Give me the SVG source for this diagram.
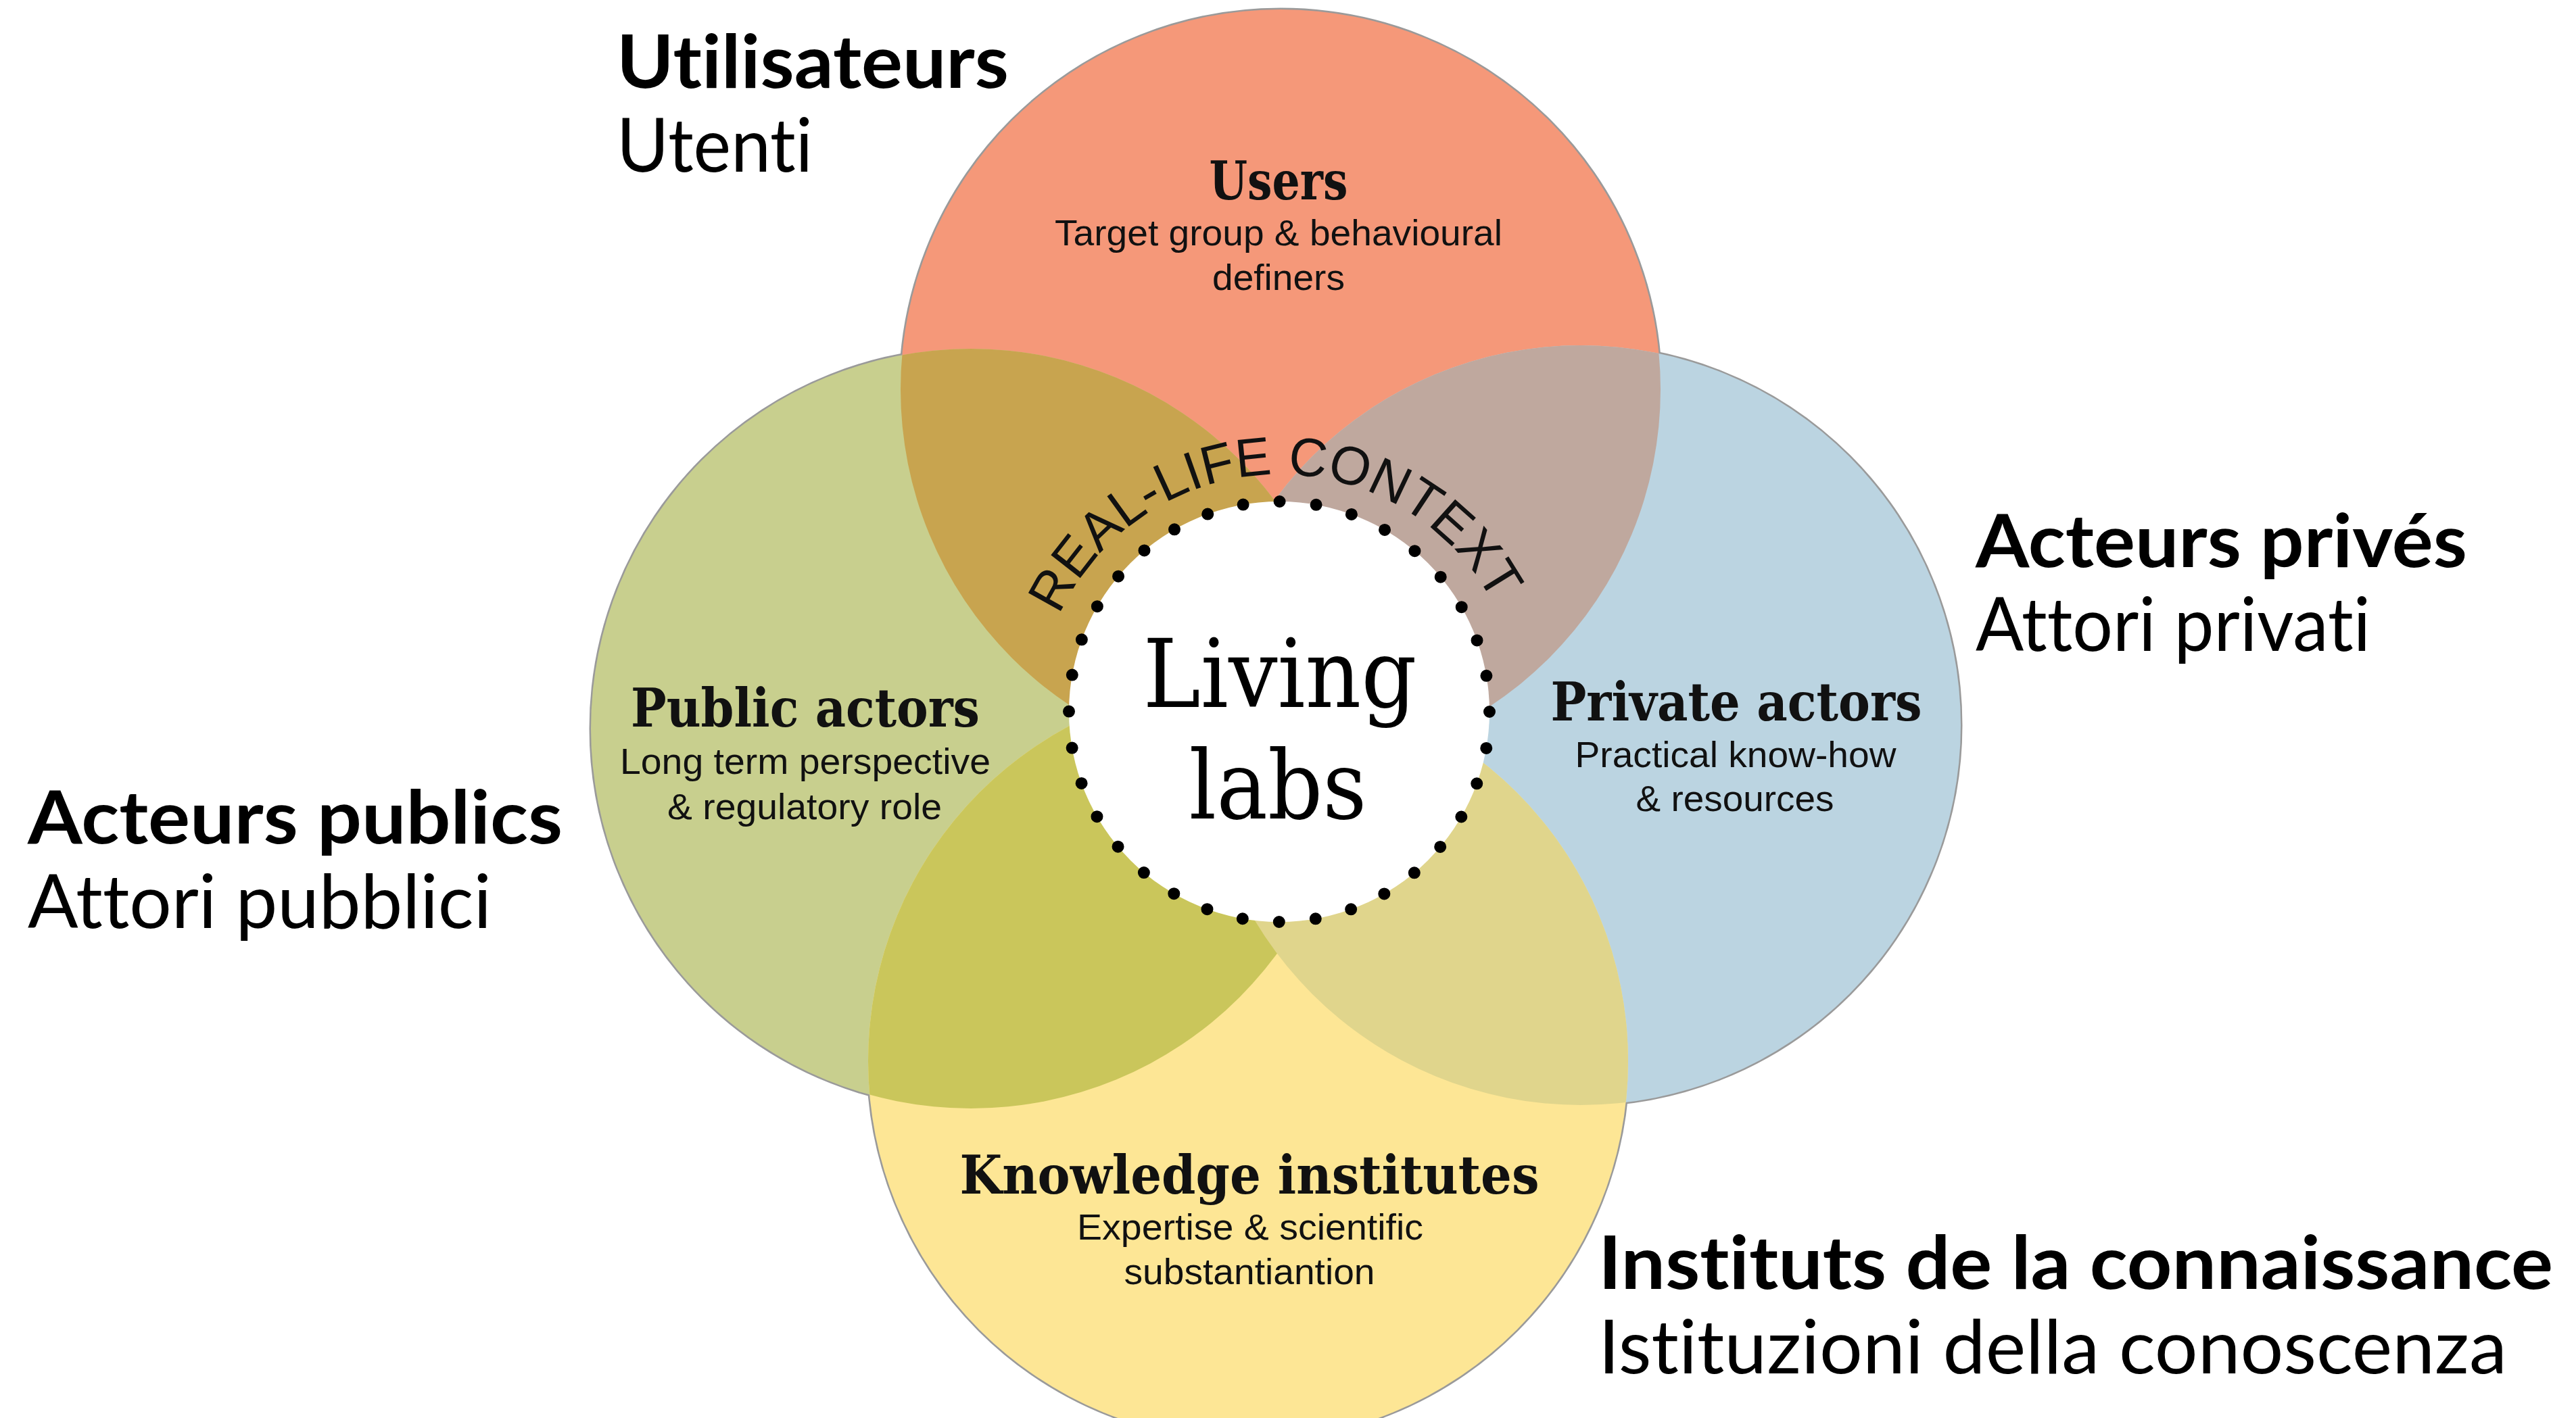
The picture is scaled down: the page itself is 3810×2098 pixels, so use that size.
<svg xmlns="http://www.w3.org/2000/svg" width="3810" height="2098" viewBox="0 0 3810 2098">
<style>
text{font-variant-ligatures:none}
.outline{fill:none;stroke:#9a9a9a;stroke-width:5}
.slab{font-family:"DejaVu Serif","Liberation Serif",serif;font-weight:bold;font-size:78px;fill:#111;text-anchor:middle}
.sub{font-family:"Liberation Sans",Arial,sans-serif;font-size:53px;fill:#111;text-anchor:middle}
.lbl{font-family:Lato,"Open Sans","Liberation Sans",sans-serif;font-size:110px;fill:#000}
.lblb{font-weight:bold}
.ctx{font-family:"Liberation Sans",Arial,sans-serif;font-size:80px;fill:#111}
.ll{font-family:"DejaVu Serif","Liberation Serif",serif;font-size:140px;fill:#000;text-anchor:middle}
</style>
<defs>
<clipPath id="cU"><circle cx="1894" cy="576" r="562"/></clipPath>
<clipPath id="cG"><circle cx="1436" cy="1078" r="562"/></clipPath>
<clipPath id="cB"><circle cx="2338" cy="1073" r="562"/></clipPath>
<clipPath id="cY"><circle cx="1846" cy="1570" r="562"/></clipPath>
<path id="arc" d="M 1534 1060 A 358 358 0 0 1 2250 1060"/>
</defs>
<rect width="3810" height="2098" fill="#ffffff"/>
<g id="venn">
<circle class="outline" cx="1894" cy="576" r="562"/>
<circle class="outline" cx="1436" cy="1078" r="562"/>
<circle class="outline" cx="2338" cy="1073" r="562"/>
<circle class="outline" cx="1846" cy="1570" r="562"/>
<circle cx="1894" cy="576" r="562" fill="#F59879"/>
<circle cx="1436" cy="1078" r="562" fill="#C8CF8E"/>
<circle cx="2338" cy="1073" r="562" fill="#BBD4E1"/>
<circle cx="1846" cy="1570" r="562" fill="#FDE695"/>
<g clip-path="url(#cU)"><circle cx="1436" cy="1078" r="562" fill="#C8A44F"/><circle cx="2338" cy="1073" r="562" fill="#BFA89E"/></g>
<g clip-path="url(#cY)"><circle cx="1436" cy="1078" r="562" fill="#CAC65B"/><circle cx="2338" cy="1073" r="562" fill="#E0D58C"/></g>
</g>
<g id="living-labs">
<circle cx="1892" cy="1053" r="311" fill="#ffffff"/>
<circle cx="1892" cy="1053" r="311" fill="none" stroke="#000" stroke-width="18" stroke-linecap="round" stroke-dasharray="0 54.28"/>
<text class="ll" x="1893" y="1046" textLength="405" lengthAdjust="spacingAndGlyphs">Living</text>
<text class="ll" x="1890" y="1211" textLength="263" lengthAdjust="spacingAndGlyphs">labs</text>
<text class="ctx"><textPath href="#arc" startOffset="552" text-anchor="middle" textLength="795" lengthAdjust="spacingAndGlyphs">REAL-LIFE CONTEXT</textPath></text>
</g>
<g id="users">
<text class="slab" x="1891" y="295" textLength="205" lengthAdjust="spacingAndGlyphs">Users</text>
<text class="sub" x="1891" y="363" textLength="662" lengthAdjust="spacingAndGlyphs">Target group &amp; behavioural</text>
<text class="sub" x="1891" y="429" textLength="196" lengthAdjust="spacingAndGlyphs">definers</text>
</g>
<g id="public-actors">
<text class="slab" x="1191" y="1075" textLength="516" lengthAdjust="spacingAndGlyphs">Public actors</text>
<text class="sub" x="1191" y="1145" textLength="548" lengthAdjust="spacingAndGlyphs">Long term perspective</text>
<text class="sub" x="1190" y="1212" textLength="406" lengthAdjust="spacingAndGlyphs">&amp; regulatory role</text>
</g>
<g id="private-actors">
<text class="slab" x="2568" y="1066" textLength="549" lengthAdjust="spacingAndGlyphs">Private actors</text>
<text class="sub" x="2567" y="1135" textLength="475" lengthAdjust="spacingAndGlyphs">Practical know-how</text>
<text class="sub" x="2566" y="1200" textLength="293" lengthAdjust="spacingAndGlyphs">&amp; resources</text>
</g>
<g id="knowledge-institutes">
<text class="slab" x="1848" y="1766" textLength="857" lengthAdjust="spacingAndGlyphs">Knowledge institutes</text>
<text class="sub" x="1849" y="1834" textLength="512" lengthAdjust="spacingAndGlyphs">Expertise &amp; scientific</text>
<text class="sub" x="1848" y="1900" textLength="371" lengthAdjust="spacingAndGlyphs">substantiantion</text>
</g>
<g id="label-users">
<text class="lbl lblb" x="912" y="130" textLength="580" lengthAdjust="spacingAndGlyphs">Utilisateurs</text>
<text class="lbl" x="912" y="254" textLength="290" lengthAdjust="spacingAndGlyphs">Utenti</text>
</g>
<g id="label-private">
<text class="lbl lblb" x="2922" y="839" textLength="727" lengthAdjust="spacingAndGlyphs">Acteurs privés</text>
<text class="lbl" x="2922" y="963" textLength="584" lengthAdjust="spacingAndGlyphs">Attori privati</text>
</g>
<g id="label-public">
<text class="lbl lblb" x="41" y="1248" textLength="791" lengthAdjust="spacingAndGlyphs">Acteurs publics</text>
<text class="lbl" x="41" y="1373" textLength="686" lengthAdjust="spacingAndGlyphs">Attori pubblici</text>
</g>
<g id="label-knowledge">
<text class="lbl lblb" x="2364" y="1907" textLength="1412" lengthAdjust="spacingAndGlyphs">Instituts de la connaissance</text>
<text class="lbl" x="2364" y="2032" textLength="1344" lengthAdjust="spacingAndGlyphs">Istituzioni della conoscenza</text>
</g>
</svg>
